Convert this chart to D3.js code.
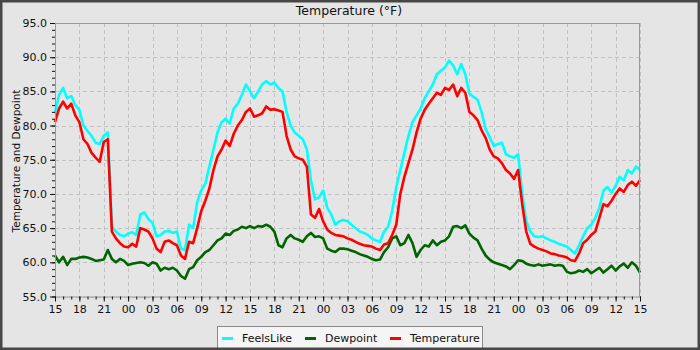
<!DOCTYPE html>
<html>
<head>
<meta charset="utf-8">
<script src="https://cdn.jsdelivr.net/npm/d3@7"></script>
<style>
  body { margin: 0; background: #e5e5e5; }
  svg { display: block; }
  text { font-family: "DejaVu Sans", sans-serif; fill: #111; }
</style>
</head>
<body>
<svg id="chart" width="700" height="350"></svg>
<script>
// Hour-of-day labels for the 3-hourly ticks, over three days starting at 15:00
const hourLabels = ["15","18","21","00","03","06","09","12","15","18","21","00","03","06","09","12","15","18","21","00","03","06","09","12","15"];

// Readings every half hour (hours since the first 15:00)
const sampleHours = d3.range(0, 72.5, 0.5);

const feelsLike = [
  81.8,84.5,85.5,84.0,84.3,83.0,82.3,80.0,79.2,78.5,77.5,77.3,78.5,79.0,65.2,64.5,
  64.0,63.8,64.2,64.4,64.0,67.0,67.3,66.3,65.8,63.8,64.0,64.5,64.6,64.3,64.5,62.0,
  61.8,65.5,65.0,68.8,70.5,71.5,74.0,76.5,79.0,80.5,81.0,80.3,82.5,83.2,84.5,86.0,
  85.0,84.0,85.0,86.0,86.5,86.0,86.3,85.5,85.0,82.0,80.0,79.0,78.5,78.0,76.5,72.0,
  69.2,69.5,70.5,68.0,67.0,65.5,66.0,66.2,66.0,65.5,65.0,64.5,64.3,64.0,63.5,63.2,
  63.0,64.5,65.2,67.5,71.0,73.5,76.0,78.5,80.5,81.5,82.5,84.0,85.0,86.0,87.5,88.0,
  88.5,89.5,88.8,87.5,89.0,87.5,84.7,84.2,83.8,82.0,79.5,78.3,77.0,77.3,77.5,75.8,
  75.5,75.3,75.8,70.0,66.0,64.5,63.8,63.7,63.8,63.5,63.2,63.0,62.7,62.5,62.3,61.8,
  61.3,62.5,63.8,65.0,65.5,66.5,68.0,70.5,71.0,70.2,71.2,72.5,72.0,73.5,73.0,74.0,
  73.5
];

const dewpoint = [
  61.0,60.0,60.8,59.6,60.5,60.5,60.7,60.8,60.7,60.5,60.2,60.3,60.4,61.8,60.5,60.0,
  60.5,60.2,59.6,59.8,59.9,60.0,59.9,59.5,60.0,59.8,58.8,59.2,59.0,59.2,58.8,58.0,
  57.6,59.0,59.3,60.3,60.8,61.5,61.8,62.5,63.2,63.5,64.2,64.0,64.6,64.8,65.2,65.0,
  65.3,65.0,65.3,65.2,65.5,65.2,64.5,62.5,62.2,63.5,64.0,63.5,63.3,63.0,63.8,64.3,
  63.7,63.8,63.5,62.0,61.7,61.5,62.0,62.0,61.9,61.7,61.5,61.2,61.0,60.8,60.5,60.3,
  60.4,61.5,62.2,63.5,63.8,62.5,62.8,64.0,62.8,60.8,61.8,62.5,62.3,63.2,62.5,63.0,
  63.2,63.8,65.2,65.3,65.0,65.4,64.2,63.6,63.2,62.0,61.0,60.4,60.0,59.8,59.6,59.4,
  59.0,59.6,60.3,60.2,59.8,59.6,59.5,59.7,59.5,59.6,59.7,59.5,59.6,59.5,58.6,58.4,
  58.5,58.8,58.6,59.0,58.4,58.8,59.2,58.5,59.0,59.5,58.8,59.4,59.8,59.2,60.0,59.5,
  58.5
];

const temperature = [
  80.5,82.5,83.5,82.5,83.2,81.5,80.5,78.0,77.3,76.0,75.3,74.7,77.6,78.0,64.5,63.5,
  62.8,62.3,62.2,62.7,62.3,65.0,64.8,64.5,63.5,62.0,61.5,63.0,63.2,62.8,62.5,61.0,
  60.5,63.0,62.8,65.0,67.5,69.0,70.8,73.5,75.5,76.5,77.8,77.0,78.8,80.0,80.8,82.0,
  82.5,81.3,81.5,81.8,82.8,82.3,82.4,82.2,82.0,78.5,76.5,75.5,75.2,75.0,74.0,67.0,
  66.5,67.8,66.0,64.8,64.3,64.0,63.9,63.8,63.5,63.3,63.0,62.7,62.5,62.4,62.3,62.0,
  61.8,62.6,62.8,64.0,65.5,70.0,72.5,74.5,76.5,79.0,81.0,82.3,83.2,84.0,84.8,84.5,
  85.5,85.2,86.0,84.3,85.5,84.8,82.0,81.5,80.8,79.3,78.2,76.5,75.5,75.2,74.5,73.5,
  73.0,72.2,73.5,68.5,64.5,62.7,62.3,62.0,61.8,61.6,61.3,61.2,61.0,60.9,60.7,60.3,
  60.2,61.3,62.8,63.3,64.0,64.5,66.5,68.5,68.2,69.0,70.0,70.8,70.3,71.3,71.8,71.2,
  72.0
];

const seriesNames = ["FeelsLike", "Dewpoint", "Temperature"];
const seriesColors = ["#00ffff", "#006400", "#ff0000"];
const seriesValues = [feelsLike, dewpoint, temperature];

const yMajor = [55, 60, 65, 70, 75, 80, 85, 90, 95];

const svg = d3.select("#chart");
const W = 700, H = 350;
const plot = { left: 55, right: 640, top: 23, bottom: 296.5 };

svg.append("rect").attr("width", W).attr("height", H).attr("fill", "#e5e5e5");

const x = d3.scaleLinear().domain([0, 72]).range([plot.left, plot.right]);
const y = d3.scaleLinear().domain([55, 95]).range([plot.bottom, plot.top]);

const xMajor = d3.range(0, 73, 3);

// grid
const grid = svg.append("g").attr("stroke", "#c2c2c2").attr("stroke-dasharray", "4,3").attr("stroke-width", 1);
grid.selectAll(".gx").data(xMajor).join("line")
  .attr("x1", d => Math.round(x(d)) + 0.5).attr("x2", d => Math.round(x(d)) + 0.5)
  .attr("y1", plot.top).attr("y2", plot.bottom);
grid.selectAll(".gy").data(yMajor).join("line")
  .attr("y1", d => Math.round(y(d)) + 0.5).attr("y2", d => Math.round(y(d)) + 0.5)
  .attr("x1", plot.left).attr("x2", plot.right);

// series lines
const g = svg.append("g");
seriesValues.forEach((vals, i) => {
  const line = d3.line()
    .x((d, k) => x(sampleHours[k]))
    .y(d => y(d));
  g.append("path")
    .datum(vals)
    .attr("fill", "none")
    .attr("stroke", seriesColors[i])
    .attr("stroke-width", 2.6)
    .attr("stroke-linejoin", "round")
    .attr("d", line);
});

// frame
svg.append("rect")
  .attr("x", plot.left + 0.5).attr("y", plot.top + 0.5)
  .attr("width", plot.right - plot.left - 1).attr("height", plot.bottom - plot.top)
  .attr("fill", "none").attr("stroke", "#9a9a9a");

// y axis: major + minor ticks
const yAxisG = svg.append("g").attr("transform", `translate(${plot.left},0)`)
  .call(d3.axisLeft(y).tickValues(yMajor).tickFormat(d3.format(".1f")).tickSize(5).tickPadding(3));
svg.append("g").attr("transform", `translate(${plot.left},0)`)
  .call(d3.axisLeft(y).tickValues(d3.range(55, 96, 1)).tickSize(3).tickFormat(""));

// x axis: major + minor ticks
const xAxisG = svg.append("g").attr("transform", `translate(0,${plot.bottom})`)
  .call(d3.axisBottom(x).tickValues(xMajor).tickFormat((d, i) => hourLabels[i]).tickSize(5).tickPadding(4));
svg.append("g").attr("transform", `translate(0,${plot.bottom})`)
  .call(d3.axisBottom(x).tickValues(d3.range(0, 73, 1)).tickSize(3).tickFormat(""));

svg.selectAll(".domain").remove();
svg.selectAll(".tick line").attr("stroke", "#111");
svg.selectAll(".tick text").attr("font-size", 11).attr("font-family", "DejaVu Sans").attr("fill", "#111");

// title
svg.append("text").attr("x", 349).attr("y", 15).attr("text-anchor", "middle")
  .attr("font-size", 12.5).text("Temperature (°F)");

// y label
svg.append("text").attr("transform", "translate(20,161) rotate(-90)")
  .attr("text-anchor", "middle").attr("font-size", 10.5).text("Temperature and Dewpoint");

// legend
const lg = svg.append("g");
lg.append("rect").attr("x", 217.5).attr("y", 326.5).attr("width", 265).attr("height", 30)
  .attr("fill", "#f5f5f5").attr("stroke", "#8a8a8a");
const legendX = [222, 305, 390];
seriesNames.forEach((name, i) => {
  lg.append("line").attr("x1", legendX[i]).attr("x2", legendX[i] + 11)
    .attr("y1", 338.5).attr("y2", 338.5)
    .attr("stroke", seriesColors[i]).attr("stroke-width", 3);
  lg.append("text").attr("x", legendX[i] + 20).attr("y", 342)
    .attr("font-size", 11).text(name);
});

// outer border
svg.append("rect").attr("x", 1).attr("y", 1).attr("width", W - 2).attr("height", H - 2)
  .attr("fill", "none").attr("stroke", "#474747").attr("stroke-width", 3);
</script>
</body>
</html>
